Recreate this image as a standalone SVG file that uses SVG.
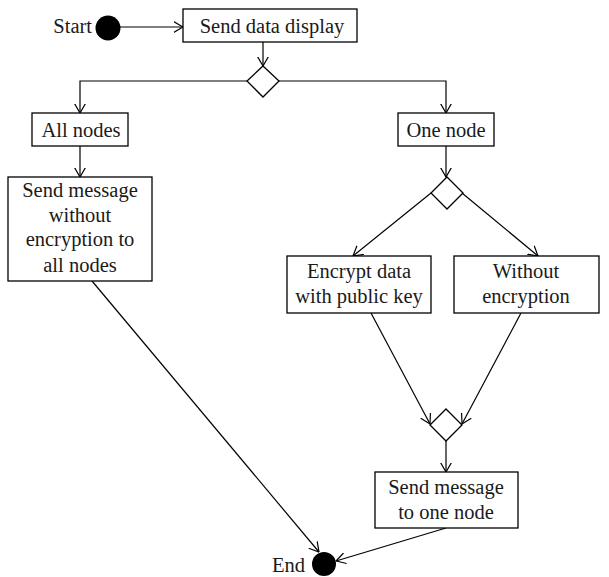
<svg xmlns="http://www.w3.org/2000/svg" width="609" height="577" viewBox="0 0 609 577">
  <defs>
    <marker id="arrow" viewBox="0 0 10 12" refX="9.5" refY="6" markerWidth="10" markerHeight="12" markerUnits="userSpaceOnUse" orient="auto">
      <path d="M0,0.5 L9.5,6 L0,11.5" fill="none" stroke="#000" stroke-width="1.2"/>
    </marker>
  </defs>
  <style>
    .box { fill: #fff; stroke: #000; stroke-width: 1.3; }
    .dia { fill: #fff; stroke: #000; stroke-width: 1.3; }
    .dot { fill: #000; }
    text { font-family: 'Liberation Serif', 'DejaVu Serif', serif; font-size: 20.5px; fill: #1a1a1a; }
    .lbl { text-anchor: middle; }
    .side { text-anchor: end; }
    .edge { fill: none; stroke: #000; stroke-width: 1.2; marker-end: url(#arrow); }
  </style>

  <rect width="609" height="577" fill="#fff"/>

  <!-- connectors -->
  <g id="connectors">
    <line class="edge" x1="120" y1="27" x2="183" y2="27"/>
    <line class="edge" x1="263" y1="42" x2="263" y2="66"/>
    <polyline class="edge" points="247,81 80,81 80,113"/>
    <polyline class="edge" points="279,81 446,81 446,113"/>
    <line class="edge" x1="80" y1="146" x2="80" y2="177"/>
    <line class="edge" x1="446" y1="146" x2="446" y2="177"/>
    <line class="edge" x1="431" y1="193" x2="353" y2="256"/>
    <line class="edge" x1="462" y1="193" x2="538" y2="256"/>
    <line class="edge" x1="371" y1="313" x2="430" y2="424"/>
    <line class="edge" x1="521" y1="313" x2="462" y2="424"/>
    <line class="edge" x1="446" y1="441" x2="446" y2="472"/>
    <line class="edge" x1="92" y1="281" x2="319" y2="552"/>
    <line class="edge" x1="446" y1="528" x2="336" y2="561"/>
  </g>

  <!-- start -->
  <g id="start">
    <text class="side" x="92" y="33">Start</text>
    <circle class="dot" cx="108" cy="28" r="12.5"/>
  </g>

  <g id="send-data-display">
    <rect class="box" x="183" y="9" width="174" height="33"/>
    <text class="lbl" x="272" y="33">Send data display</text>
  </g>

  <g id="decision-target">
    <polygon class="dia" points="263,66 279,81 263,97 247,81"/>
  </g>

  <g id="all-nodes">
    <rect class="box" x="32" y="113" width="96" height="33"/>
    <text class="lbl" x="81" y="137">All nodes</text>
  </g>

  <g id="one-node">
    <rect class="box" x="398" y="113" width="96" height="33"/>
    <text class="lbl" x="446" y="137">One node</text>
  </g>

  <g id="send-all">
    <rect class="box" x="8" y="177" width="144" height="104"/>
    <text class="lbl" x="80" y="197">Send message</text>
    <text class="lbl" x="80" y="222">without</text>
    <text class="lbl" x="80" y="246">encryption to</text>
    <text class="lbl" x="80" y="272">all nodes</text>
  </g>

  <g id="decision-encryption">
    <polygon class="dia" points="447,177 463,193 447,209 431,193"/>
  </g>

  <g id="encrypt">
    <rect class="box" x="287" y="256" width="144" height="57"/>
    <text class="lbl" x="359" y="278">Encrypt data</text>
    <text class="lbl" x="359" y="303">with public key</text>
  </g>

  <g id="no-encryption">
    <rect class="box" x="454" y="256" width="145" height="57"/>
    <text class="lbl" x="526" y="278">Without</text>
    <text class="lbl" x="526" y="303">encryption</text>
  </g>

  <g id="merge">
    <polygon class="dia" points="446,409 462,425 446,441 430,425"/>
  </g>

  <g id="send-one">
    <rect class="box" x="375" y="472" width="143" height="56"/>
    <text class="lbl" x="446" y="494">Send message</text>
    <text class="lbl" x="446" y="519">to one node</text>
  </g>

  <!-- end -->
  <g id="end">
    <text class="side" x="305" y="572">End</text>
    <circle class="dot" cx="324" cy="564" r="12"/>
  </g>
</svg>
